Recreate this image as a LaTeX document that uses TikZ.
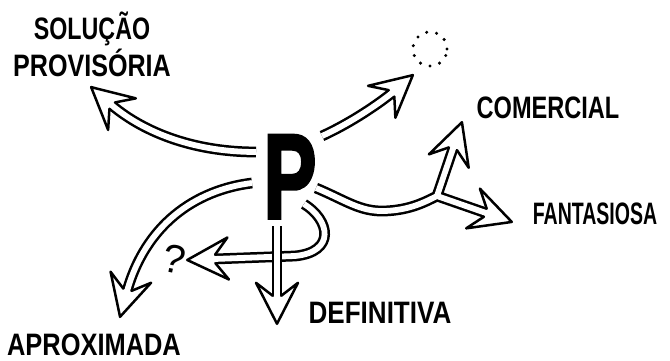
\documentclass[tikz,border=0pt]{standalone}
\usepackage{fontspec}
\usepackage{graphicx}
\setmainfont{Liberation Sans}
\newfontfamily\bigpfont{Liberation Sans}[BoldFeatures={FakeBold=3}]
\usetikzlibrary{calc,decorations.markings}

\newcommand{\squeeze}[2]{\scalebox{#1}[1]{#2}}
\newcommand{\hollowtip}{%
  \fill[white] (0pt,0pt) -- (-41pt,21pt) -- (-28pt,4.2pt) -- (-28pt,-4.2pt)
    -- (-41pt,-21pt) -- cycle;
  \draw[black,line width=2.5pt,line join=round,line cap=round,
        shorten >=0pt,shorten <=0pt]
    (-28pt,4.2pt) -- (-41pt,21pt) -- (0pt,0pt) -- (-41pt,-21pt) -- (-28pt,-4.2pt);}

\tikzset{
  shaft/.style ={draw=black,line width=10.8pt,line join=round,shorten >=25pt,
                 postaction={draw=white,line width=5.8pt}},
  tip/.style   ={postaction={decorate,decoration={markings,
                 mark=at position -0.2pt with {\hollowtip}}}},
  hollow/.style={shaft,tip},
  lbl/.style   ={font=\fontsize{31}{37}\selectfont\bfseries,anchor=base,
                 align=center,inner sep=0pt},
}

\begin{document}
\begin{tikzpicture}[x=1pt,y=-1pt]
\useasboundingbox (0,0) rectangle (670,361);

% the letter in the middle
\node[inner sep=0pt,anchor=base] (P) at (290,218)
  {\squeeze{0.66}{\fontsize{120}{120}\selectfont\bigpfont\bfseries P}};

% labels
\node[lbl] (prov) at (92,77) {\squeeze{0.75}{SOLUÇÃO}\\\squeeze{0.81}{PROVISÓRIA}};
\node[lbl] (com)  at (548,118) {\squeeze{0.76}{COMERCIAL}};
\node[lbl] (fan)  at (595,224) {\squeeze{0.63}{FANTASIOSA}};
\node[lbl] (def)  at (380,323) {\squeeze{0.84}{DEFINITIVA}};
\node[lbl] (apr)  at (94,355)  {\squeeze{0.82}{APROXIMADA}};
\node[circle,draw,line width=3.4pt,dash pattern=on 0pt off 10pt,line cap=round,
      minimum size=34pt,inner sep=0pt] (void) at (430,49) {};
\node[font=\fontsize{40}{40}\selectfont,rotate=-12,inner sep=0pt] (qm) at (174,259) {?};

% arrow ends
\coordinate (provtip) at (91,87);
\coordinate (voidtip) at (413,75);
\coordinate (fork)    at (437,196);
\coordinate (comtip)  at (462,122);
\coordinate (fantip)  at (512,222);
\coordinate (aprtip)  at (120,317);
\coordinate (qmtip)   at (187,260);
\coordinate (deftip)  at (277,324);

% arrows out of P
\draw[hollow] ($(P.base)+(-34,-66)$) .. controls (190,152) and (140,130) .. (provtip);
\draw[hollow] ($(P.base)+(32,-82)$) .. controls (355,121) and (385,99) .. (voidtip);
\draw[shaft] ($(P.base)+(26,-30)$) .. controls (345,200) and (360,212) .. (385,211)
  .. controls (410,210) and (425,202) .. (fork) -- ($(comtip)!25pt!(fork)$)
  (fork) -- (fantip);
\path[tip] (fork) -- (comtip);
\path[tip] (fork) -- (fantip);
\draw[hollow] ($(P.base)+(-38,-35)$) .. controls (195,190) and (145,225) .. (aprtip);
\draw[hollow] ($(P.base)+(14,-14)$) .. controls (330,220) and (336,252) .. (295,256)
  -- (qmtip);
\draw[hollow] ($(P.base)+(-13,8)$) -- (deftip);
\end{tikzpicture}
\end{document}
